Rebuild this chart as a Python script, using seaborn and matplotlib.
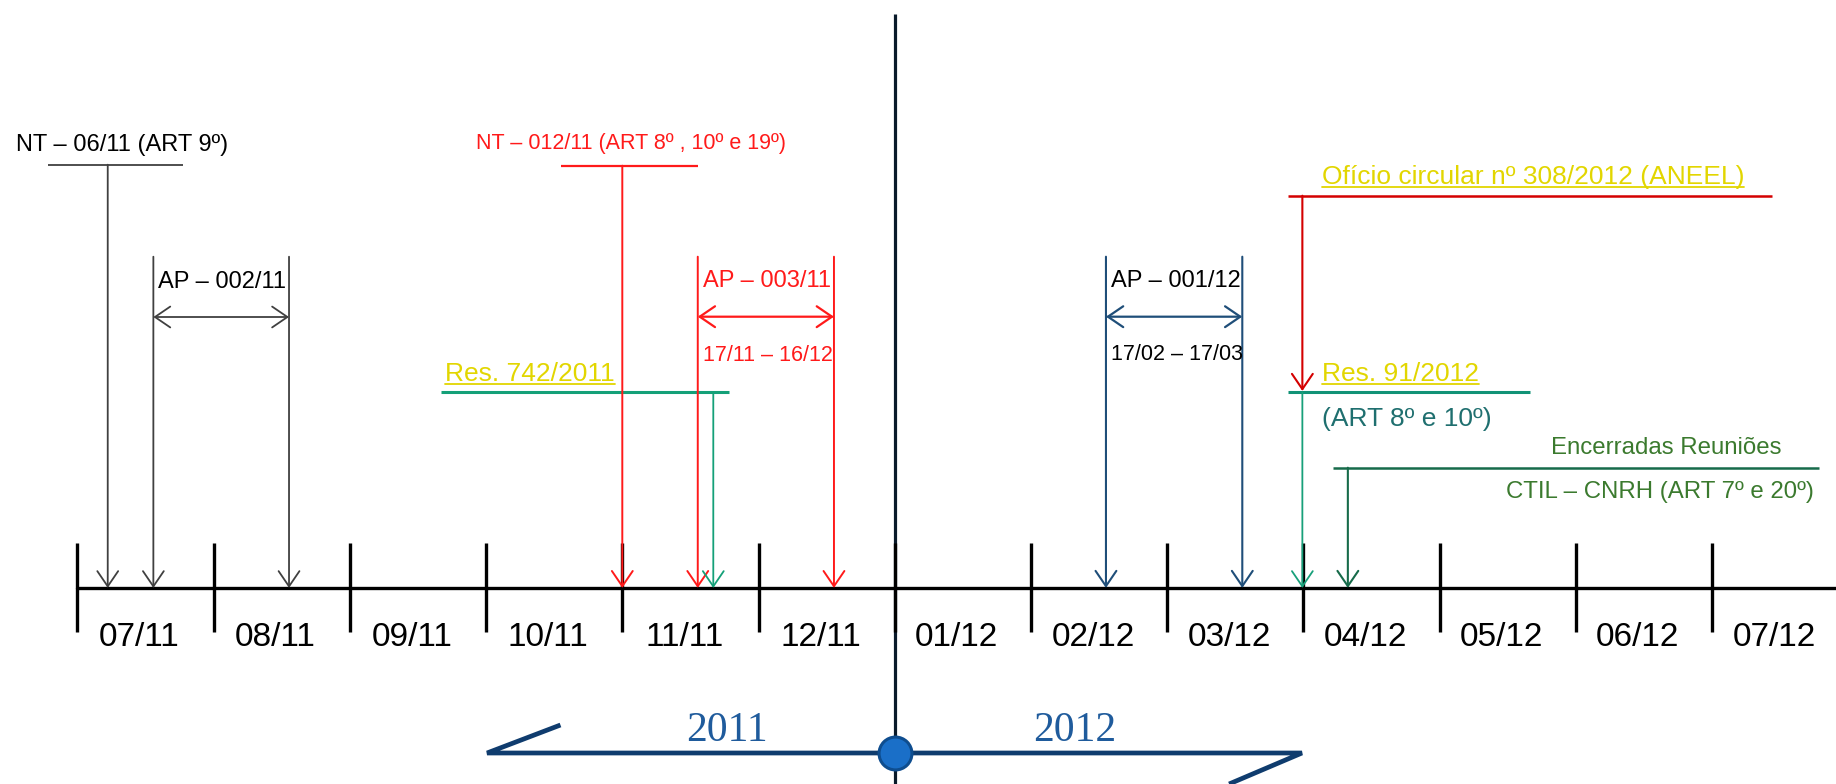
import matplotlib
matplotlib.use('Agg')
import matplotlib.pyplot as plt
import seaborn as sns
import pandas as pd

sns.set_theme(style='white')
plt.rcParams['font.family'] = ['Liberation Sans', 'DejaVu Sans']

# ---------------- data ----------------
month_labels = ['07/11', '08/11', '09/11', '10/11', '11/11', '12/11', '01/12',
                '02/12', '03/12', '04/12', '05/12', '06/12', '07/12']
month_ticks = list(range(13))          # month boundaries (months since 07/2011)
year_split = 6                         # boundary 2011 | 2012
year_labels = ['2011', '2012']

nt06_x = 0.222
nt06_bar = [-0.219, 0.777]
ap002 = [0.557, 1.553]
nt012_x = 4.0
nt012_bar = [3.55, 4.554]
ap003 = [4.554, 5.554]
res742_x = 4.668
res742_bar = [2.669, 4.784]
ap001 = [7.551, 8.552]
oficio_x = 8.993
oficio_bar = [8.888, 12.44]
res91_bar = [8.888, 10.665]
encerr_x = 9.327
encerr_bar = [9.218, 12.786]
banner_span = [3.007, 8.99]

# ---------------- figure ----------------
fig = plt.figure(figsize=(18.36, 7.84), dpi=100)
fig.patch.set_facecolor('white')
ax = fig.add_axes([0, 0, 1, 1])
ax.set_xlim(-0.569, 12.911)
ax.set_ylim(784, 0)
ax.axis('off')

AXIS_Y = 588
GRAY = '#404040'
RED = '#ff1a1a'
DRED = '#d40000'
TEAL = '#14a078'
YEL = '#e2d600'
NAVY = '#1f4e79'
DGREEN = '#176b4a'
TXTGREEN = '#3b7a2e'


def arrow(x, y0, y1, color, lw=1.3):
    ax.annotate('', xy=(x, y1), xytext=(x, y0),
                arrowprops=dict(arrowstyle='->,head_length=1.1,head_width=0.75',
                                color=color, lw=lw, shrinkA=0, shrinkB=0,
                                mutation_scale=10))


def darrow(x0, x1, y, color, lw=1.3):
    ax.annotate('', xy=(x1, y), xytext=(x0, y),
                arrowprops=dict(arrowstyle='<->,head_length=1.1,head_width=0.75',
                                color=color, lw=lw, shrinkA=0, shrinkB=0,
                                mutation_scale=10))


# central vertical line
ax.vlines(year_split, 14, 784, color='#0a1a2a', lw=2.3, zorder=1)

# month axis
axis_df = pd.DataFrame({'x': [month_ticks[0], 13.5], 'y': [AXIS_Y, AXIS_Y]})
sns.lineplot(data=axis_df, x='x', y='y', color='black', lw=2.4, ax=ax, zorder=3)
ax.vlines(month_ticks, 543, 632, color='black', lw=2.4, zorder=3)
for i, lab in enumerate(month_labels):
    ax.text(i + 0.455, 637, lab, fontsize=24, ha='center', va='center', color='black')

# NT - 06/11
ax.hlines(164.7, *nt06_bar, color=GRAY, lw=1.3)
arrow(nt06_x, 164.7, AXIS_Y, GRAY)
ax.text(0.327, 145, 'NT – 06/11 (ART 9º)', fontsize=17, ha='center', va='center', color='black')

# AP - 002/11
for xv in ap002:
    arrow(xv, 256.7, AXIS_Y, GRAY)
darrow(ap002[0], ap002[1], 317, GRAY)
ax.text(ap002[0] + 0.034, 281.5, 'AP – 002/11', fontsize=17, ha='left', va='center', color='black')

# NT - 012/11
ax.hlines(165.7, *nt012_bar, color=RED, lw=1.6)
arrow(nt012_x, 165.7, AXIS_Y, RED, lw=1.4)
ax.text(4.065, 143.5, 'NT – 012/11 (ART 8º , 10º e 19º)', fontsize=15.5, ha='center', va='center', color=RED)

# AP - 003/11
for xv in ap003:
    arrow(xv, 256.7, AXIS_Y, RED, lw=1.4)
darrow(ap003[0], ap003[1], 316.7, RED, lw=1.6)
ax.text(ap003[0] + 0.04, 281, 'AP – 003/11', fontsize=17, ha='left', va='center', color=RED)
ax.text(ap003[0] + 0.04, 355, '17/11 – 16/12', fontsize=15.5, ha='left', va='center', color=RED)

# Res. 742/2011
ax.hlines(392.3, *res742_bar, color=TEAL, lw=2.2)
arrow(res742_x, 392.3, AXIS_Y, TEAL)
t_res742 = ax.text(2.698, 374, 'Res. 742/2011', fontsize=19, ha='left', va='center', color=YEL)

# AP - 001/12
for xv in ap001:
    arrow(xv, 256.7, AXIS_Y, NAVY, lw=1.5)
darrow(ap001[0], ap001[1], 316.7, NAVY, lw=1.6)
ax.text(ap001[0] + 0.034, 280.7, 'AP – 001/12', fontsize=17, ha='left', va='center', color='black')
ax.text(ap001[0] + 0.04, 354, '17/02 – 17/03', fontsize=15.5, ha='left', va='center', color='black')

# Ofício circular
ax.hlines(195.7, *oficio_bar, color=DRED, lw=1.8)
arrow(oficio_x, 195.7, 391, DRED, lw=1.5)
t_oficio = ax.text(9.137, 176.7, 'Ofício circular nº 308/2012 (ANEEL)', fontsize=19,
                   ha='left', va='center', color=YEL)

# Res. 91/2012
ax.hlines(392.3, *res91_bar, color='#119276', lw=2.2)
arrow(oficio_x, 392.3, AXIS_Y, '#18a07a')
t_res91 = ax.text(9.137, 374, 'Res. 91/2012', fontsize=19, ha='left', va='center', color=YEL)
ax.text(9.137, 419.3, '(ART 8º e 10º)', fontsize=19, ha='left', va='center', color='#1f6f6f')

# Encerradas Reuniões
ax.hlines(467.7, *encerr_bar, color=DGREEN, lw=1.8)
arrow(encerr_x, 467.7, AXIS_Y, DGREEN, lw=1.5)
ax.text(11.663, 447.7, 'Encerradas Reuniões', fontsize=17.3, ha='center', va='center', color=TXTGREEN)
ax.text(11.618, 492.3, 'CTIL – CNRH (ART 7º e 20º)', fontsize=17.3, ha='center', va='center', color=TXTGREEN)

# year banner
BLUE = '#0f3c6e'
ax.plot([3.546, banner_span[0], banner_span[1], 8.455], [725, 753, 753, 784],
        color=BLUE, lw=3.4, solid_capstyle='butt', solid_joinstyle='miter', zorder=2)
circ_df = pd.DataFrame({'x': [year_split], 'y': [753]})
sns.scatterplot(data=circ_df, x='x', y='y', s=560, color='#1a6fc8', edgecolor='#0e4d8f',
                linewidth=2.2, ax=ax, zorder=5)
ax.text(4.769, 731, year_labels[0], fontsize=30, family='Liberation Serif',
        ha='center', va='center', color='#1f5b9c')
ax.text(7.323, 731, year_labels[1], fontsize=30, family='Liberation Serif',
        ha='center', va='center', color='#1f5b9c')

ax.set_xlim(-0.569, 12.911)
ax.set_ylim(784, 0)
ax.set_xlabel('')
ax.set_ylabel('')

# underline yellow texts
fig.canvas.draw()
renderer = fig.canvas.get_renderer()
inv = ax.transData.inverted()
for t in (t_res742, t_oficio, t_res91):
    bb = t.get_window_extent(renderer)
    (x0, y0), (x1, _) = inv.transform([(bb.x0, bb.y0 + 2), (bb.x1, bb.y0 + 2)])
    ax.plot([x0, x1], [y0, y0], color=YEL, lw=1.3)

fig.savefig('out.png', dpi=100, facecolor='white')
